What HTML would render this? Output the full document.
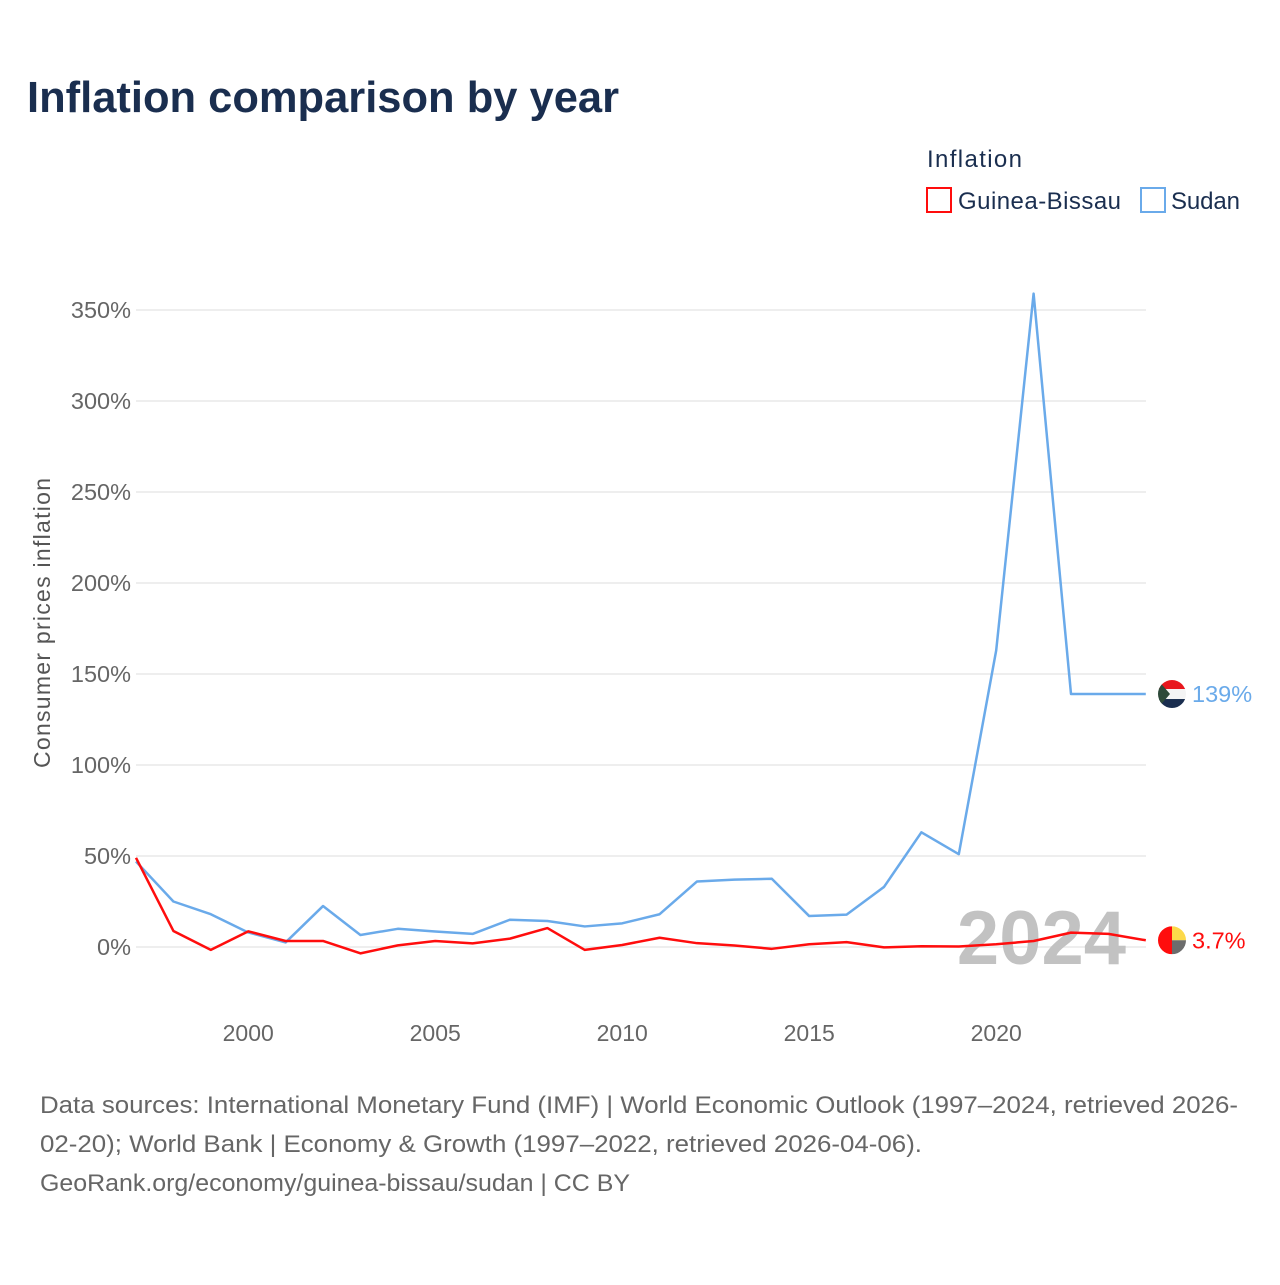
<!DOCTYPE html>
<html><head><meta charset="utf-8"><style>
body{margin:0;width:1280px;height:1280px;background:#fff;font-family:"Liberation Sans",sans-serif;overflow:hidden}
</style></head><body>
<svg id="c" width="1280" height="1280" xmlns="http://www.w3.org/2000/svg">
<text x="27" y="112" font-size="44" font-weight="bold" fill="#1a2e4f" textLength="592" lengthAdjust="spacingAndGlyphs">Inflation comparison by year</text>
<text x="927" y="167" font-size="24" fill="#1a2e4f" textLength="95">Inflation</text>
<g><rect x="927" y="188" width="24" height="24" fill="none" stroke="#ff0d0d" stroke-width="2"/><text x="958" y="209" font-size="24" fill="#1a2e4f" textLength="163">Guinea-Bissau</text></g>
<g><rect x="1141" y="188" width="24" height="24" fill="none" stroke="#6aaaea" stroke-width="2"/><text x="1171" y="209" font-size="24" fill="#1a2e4f" textLength="69">Sudan</text></g>
<text transform="translate(50,623) rotate(-90)" text-anchor="middle" font-size="23" fill="#555" textLength="290">Consumer prices inflation</text>
<g id="grid"></g><g id="xt"></g>
<text x="1126" y="964" text-anchor="end" font-size="76" font-weight="bold" fill="#c2c2c2">2024</text>
<g id="lines"></g>
<text x="40" y="1113" font-size="24" fill="#666" textLength="1198" lengthAdjust="spacingAndGlyphs">Data sources: International Monetary Fund (IMF) | World Economic Outlook (1997–2024, retrieved 2026-</text>
<text x="40" y="1152" font-size="24" fill="#666" textLength="882" lengthAdjust="spacingAndGlyphs">02-20); World Bank | Economy &amp; Growth (1997–2022, retrieved 2026-04-06).</text>
<text x="40" y="1191" font-size="24" fill="#666" textLength="590" lengthAdjust="spacingAndGlyphs">GeoRank.org/economy/guinea-bissau/sudan | CC BY</text>
</svg>
<script>
const years=[1997,1998,1999,2000,2001,2002,2003,2004,2005,2006,2007,2008,2009,2010,2011,2012,2013,2014,2015,2016,2017,2018,2019,2020,2021,2022,2023,2024];
const sudan=[47,25,18,8,2.5,22.5,6.6,10,8.5,7.2,15,14.3,11.3,13,18,36,37,37.5,17,17.8,33,63,51,163,359,139,139,139];
const guinea=[49,8.8,-1.6,8.6,3.3,3.3,-3.5,0.9,3.3,2,4.6,10.4,-1.6,1.1,5.1,2.1,0.8,-1,1.5,2.7,-0.2,0.4,0.3,1.5,3.3,7.9,7.2,3.7];
const yTicks=[0,50,100,150,200,250,300,350];
const xTicks=[2000,2005,2010,2015,2020];
const X=y=>136+(y-1997)*37.4, Y=v=>947-v*1.82;
const NS="http://www.w3.org/2000/svg";
function mk(t,a,p){const e=document.createElementNS(NS,t);for(const k in a)e.setAttribute(k,a[k]);p.appendChild(e);return e;}
const g=document.getElementById('grid');
yTicks.forEach(v=>{const l=mk('line',{x1:136,x2:1146,y1:Y(v),y2:Y(v),stroke:'#e8e8e8','stroke-width':1.5},g);


const t=mk('text',{x:131,y:Y(v)+8,'text-anchor':'end','font-size':23.5,fill:'#666'},g);t.textContent=v+'%';

});
const xt=document.getElementById('xt');
xTicks.forEach(v=>{const t=mk('text',{x:X(v),y:1041,'text-anchor':'middle','font-size':23,fill:'#666'},xt);t.textContent=v;

});
const L=document.getElementById('lines');
function series(d,c,name){const p=mk('polyline',{points:d.map((v,i)=>X(years[i])+','+Y(v)).join(' '),fill:'none',stroke:c,'stroke-width':2.5,'stroke-linejoin':'round'},L);


const last=d[d.length-1],cy=Y(last);
const cg=mk('g',{},L);


if(name==='sudan'){mk('clipPath',{id:'cs'},cg);mk('circle',{cx:1172,cy:cy,r:14},cg.lastChild);
const gg=mk('g',{'clip-path':'url(#cs)'},cg);mk('rect',{x:1158,y:cy-14,width:28,height:9,fill:'#e8171d'},gg);mk('rect',{x:1158,y:cy-5,width:28,height:10,fill:'#f4f4f4'},gg);mk('rect',{x:1158,y:cy+5,width:28,height:9,fill:'#1a2e4f'},gg);mk('polygon',{points:`1158,${cy-14} 1170,${cy} 1158,${cy+14}`,fill:'#2e4a3a'},gg);}
else{mk('clipPath',{id:'cg'},cg);mk('circle',{cx:1172,cy:cy,r:14},cg.lastChild);
const gg=mk('g',{'clip-path':'url(#cg)'},cg);mk('rect',{x:1158,y:cy-14,width:14,height:28,fill:'#ff0d0d'},gg);mk('rect',{x:1172,y:cy-14,width:14,height:14,fill:'#fcd94a'},gg);mk('rect',{x:1172,y:cy,width:14,height:14,fill:'#6c6c6c'},gg);}
const t=mk('text',{x:1192,y:cy+8,'font-size':23.5,fill:c},L);t.textContent=(last>=10?Math.round(last):last.toFixed(1))+'%';

}
series(sudan,'#6aaaea','sudan');
series(guinea,'#ff0d0d','guinea-bissau');
</script>
</body></html>
